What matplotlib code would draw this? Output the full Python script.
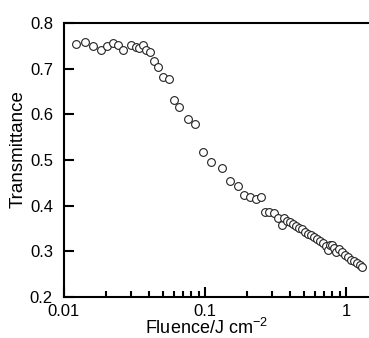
import numpy as np
import matplotlib
matplotlib.use('Agg')
import matplotlib.pyplot as plt
from matplotlib.ticker import LogLocator, FixedLocator, FuncFormatter, NullFormatter

plt.rcParams['font.family'] = ['Liberation Sans', 'DejaVu Sans']
plt.rcParams['mathtext.fontset'] = 'custom'
plt.rcParams['mathtext.rm'] = 'Liberation Sans'
plt.rcParams['mathtext.it'] = 'Liberation Sans'
plt.rcParams['mathtext.default'] = 'regular'

# fluence (J cm^-2) and transmittance
fluence = [0.0122, 0.0142, 0.0161, 0.0182, 0.0203, 0.0223, 0.0243, 0.0264,
           0.0300, 0.0324, 0.0342, 0.0363, 0.0383, 0.0406, 0.0435, 0.0462,
           0.0504, 0.0556, 0.0606, 0.0658, 0.0754, 0.0853, 0.0963, 0.110,
           0.131, 0.150, 0.172, 0.190, 0.209, 0.229, 0.250,
           0.267, 0.286, 0.308, 0.331, 0.349, 0.363, 0.384,
           0.401, 0.421, 0.442, 0.464, 0.488, 0.512, 0.538, 0.565, 0.593,
           0.623, 0.654, 0.687, 0.721, 0.745, 0.770, 0.795, 0.822, 0.850,
           0.892, 0.937, 0.984, 1.033, 1.085, 1.139, 1.197, 1.257, 1.299]
transmittance = [0.754, 0.758, 0.749, 0.741, 0.749, 0.756, 0.752, 0.741,
                 0.752, 0.747, 0.745, 0.752, 0.740, 0.736, 0.717, 0.704,
                 0.681, 0.677, 0.632, 0.617, 0.589, 0.578, 0.517, 0.495,
                 0.482, 0.455, 0.444, 0.424, 0.418, 0.414, 0.418,
                 0.386, 0.386, 0.384, 0.374, 0.358, 0.372, 0.367,
                 0.364, 0.360, 0.3555, 0.352, 0.348, 0.343, 0.339, 0.335, 0.331,
                 0.327, 0.3226, 0.318, 0.312, 0.303, 0.314, 0.313, 0.307, 0.2985,
                 0.305, 0.2985, 0.292, 0.2875, 0.282, 0.278, 0.2745, 0.270, 0.2656]

fig = plt.figure(figsize=(3.69, 3.38), dpi=100)
ax = fig.add_axes([64/369, 1 - 297/338, (372 - 64)/369, (297 - 23)/338])

ax.plot(fluence, transmittance, 'o', mfc='white', mec='#222222', ms=5.6, mew=0.8,
        linestyle='none', clip_on=False)

ax.set_xscale('log')
ax.set_xlim(0.01, 1.53)
ax.set_ylim(0.2, 0.8)

ax.xaxis.set_major_locator(FixedLocator([0.01, 0.1, 1]))
ax.xaxis.set_major_formatter(FuncFormatter(lambda v, p: '%g' % v))
ax.xaxis.set_minor_locator(LogLocator(base=10, subs=np.arange(2, 10)))
ax.xaxis.set_minor_formatter(NullFormatter())
ax.set_yticks([0.2, 0.3, 0.4, 0.5, 0.6, 0.7, 0.8])
ax.yaxis.set_major_formatter(FuncFormatter(lambda v, p: '%.1f' % v))

ax.tick_params(which='both', direction='in', top=False, right=False, width=1.5,
               labelsize=12)
ax.tick_params(which='major', length=7)
ax.tick_params(which='minor', length=4.5)
ax.tick_params(axis='y', pad=8)
ax.tick_params(axis='x', pad=5)

for s in ['left', 'bottom', 'top']:
    ax.spines[s].set_linewidth(1.5)
ax.spines['right'].set_visible(False)

ax.set_xlabel('Fluence/J cm$^{-2}$', fontsize=13)
ax.xaxis.set_label_coords(0.462, -0.078)
ax.set_ylabel('Transmittance', fontsize=13.5)
ax.yaxis.set_label_coords(-0.12, 0.54)

fig.savefig('out.png', dpi=100, facecolor='white')
